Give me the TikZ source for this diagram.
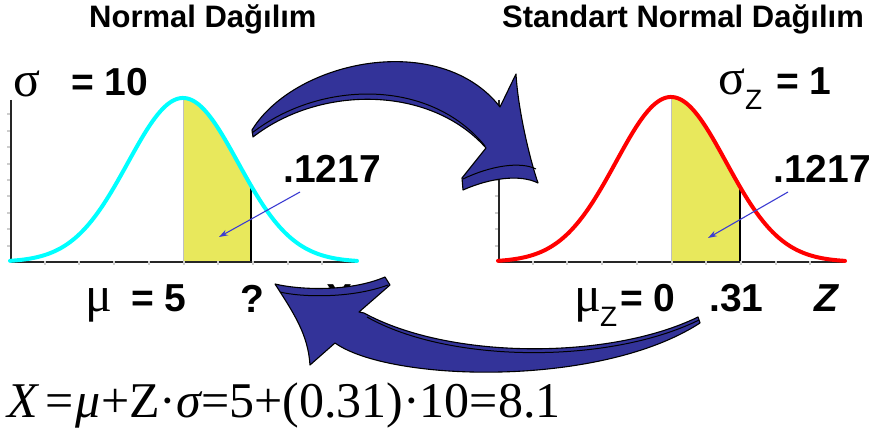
\documentclass[tikz,border=0pt]{standalone}
\usepackage{fontspec}
\setmainfont{Liberation Sans}
\newfontfamily\seriffont{Liberation Serif}
\usetikzlibrary{arrows.meta}
\definecolor{arrowblue}{RGB}{51,51,153}
\definecolor{areayellow}{RGB}{232,232,92}
\definecolor{annoblue}{RGB}{60,60,210}
\definecolor{tickgray}{RGB}{205,205,205}
\definecolor{curvecyan}{RGB}{0,255,255}
\definecolor{curvered}{RGB}{255,0,0}
\tikzset{
  titletext/.style={font=\fontsize{31}{36}\selectfont\bfseries, inner sep=0pt, anchor=base west},
  bigtext/.style={font=\fontsize{39}{44}\selectfont\bfseries, inner sep=0pt, anchor=base west},
  greektext/.style={font=\fontsize{50}{56}\seriffont, inner sep=0pt, anchor=base west},
  subtext/.style={font=\fontsize{28}{32}\selectfont, inner sep=0pt, anchor=base west},
  formulatext/.style={font=\fontsize{50}{56}\seriffont, inner sep=0pt, anchor=base west},
  axisline/.style={line width=2pt, black!85},
  tickmark/.style={line width=2pt, tickgray},
  centerline/.style={line width=0.8pt, black!25},
  cutline/.style={line width=1.2pt, black},
  bellcurve/.style={line width=4pt, line cap=round, line join=round},
  anno/.style={line width=1.1pt, annoblue, -{Stealth[length=9pt,width=6pt]}},
  bigarrow/.style={fill=arrowblue, draw=black, line width=1.1pt, line join=round},
  striplinestyle/.style={draw=black, line width=1pt},
}
\begin{document}
\begin{tikzpicture}[x=1pt,y=-1pt]
\useasboundingbox (0,0) rectangle (879,443);
\fill[white] (0,0) rectangle (879,443);

% ---------- left plot ----------
\fill[areayellow] (183,262) -- plot[domain=183:251,samples=40] (\x,{262-164*exp(-0.5*((\x-183)/55)^2)}) -- (251,262) -- cycle;
\draw[centerline] (183,98) -- (183,262);
\draw[cutline] (251,{262-164*exp(-0.5*((251-183)/55)^2)}) -- (251,262);
\draw[axisline] (11,100) -- (11,263);
\draw[axisline] (10,262) -- (357,262);
\foreach \k in {1,...,9} { \draw[tickmark] ({10+34.7*\k},261) -- ({10+34.7*\k},265); }
\foreach \k in {1,...,9} { \draw[tickmark] (7,{262-16.4*\k}) -- (9.5,{262-16.4*\k}); }
\draw[bellcurve, curvecyan] plot[domain=10:357,samples=140,smooth] (\x,{262-164*exp(-0.5*((\x-183)/55)^2)});

% ---------- right plot ----------
\fill[areayellow] (671,262) -- plot[domain=671:740,samples=40] (\x,{262-165*exp(-0.5*((\x-671)/55)^2)}) -- (740,262) -- cycle;
\draw[centerline] (671,97) -- (671,262);
\draw[cutline] (740,{262-165*exp(-0.5*((740-671)/55)^2)}) -- (740,262);
\draw[axisline] (499,100) -- (499,263);
\draw[axisline] (498,262) -- (845,262);
\foreach \k in {1,...,9} { \draw[tickmark] ({498+34.7*\k},261) -- ({498+34.7*\k},265); }
\foreach \k in {1,...,9} { \draw[tickmark] (495,{262-16.4*\k}) -- (497.5,{262-16.4*\k}); }
\draw[bellcurve, curvered] plot[domain=498:845,samples=140,smooth] (\x,{262-165*exp(-0.5*((\x-671)/55)^2)});

% ---------- titles ----------
\node[titletext] (title1) at (89,28) {Normal Dağılım};
\node[titletext] (title2) at (502,28) {Standart Normal Dağılım};

% ---------- upper labels ----------
\node[greektext] (sig1) at (13,97) {σ};
\node[bigtext] (sigval1) at (71,96) {= 10};
\node[greektext] (sig2) at (718,95) {σ};
\node[subtext] (sigsub2) at (745,110) {Z};
\node[bigtext] (sigval2) at (776,95) {= 1};
\node[bigtext] (prob1) at (283,183) {.1217};
\node[bigtext] (prob2) at (773,183) {.1217};

% ---------- lower labels ----------
\node[greektext] (mu1) at (85,312) {μ};
\node[bigtext] (muval1) at (131,312) {= 5};
\node[bigtext] (quest) at (240,313) {?};
\node[bigtext] (xlab) at (326,312) {X};
\node[greektext] (mu2) at (574,312) {μ};
\node[subtext] (musub2) at (600,327) {Z};
\node[bigtext] (muval2) at (620,312) {= 0};
\node[bigtext] (zval) at (709,312) {.31};
\node[bigtext, font=\fontsize{39}{44}\selectfont\bfseries\itshape] (zlab) at (814,312) {Z};

% ---------- annotation arrows ----------
\coordinate (a1s) at (300,192);
\coordinate (a1e) at (219,237);
\draw[anno] (a1s) -- (a1e);
\coordinate (a2s) at (788,192);
\coordinate (a2e) at (708,238);
\draw[anno] (a2s) -- (a2e);

% ---------- big curved arrows ----------
\filldraw[bigarrow] (252,130) .. controls (295,60) and (440,30) .. (500,107)
  -- (516,74) .. controls (518,110) and (530,160) .. (538,183)
  .. controls (520,174) and (490,178) .. (463,190)
  -- (462,178) -- (486,148)
  .. controls (430,85) and (320,85) .. (253,137) -- cycle;
\draw[striplinestyle] (252,133) .. controls (320,80) and (430,78) .. (485,146);
\draw[striplinestyle] (536,169) .. controls (520,161) and (490,166) .. (463,179);

\filldraw[bigarrow] (698,317) .. controls (610,360) and (450,360) .. (364,313)
  -- (359,312) -- (390,285) -- (385,277)
  .. controls (350,292) and (300,290) .. (275,284)
  .. controls (295,315) and (308,335) .. (310,365)
  -- (335,343) .. controls (390,382) and (600,388) .. (700,323) -- cycle;
\draw[striplinestyle] (388,285) .. controls (350,299) and (300,297) .. (280,292);
\draw[striplinestyle] (367,317) .. controls (450,364) and (610,364) .. (699,320);

% ---------- formula ----------
\node[formulatext] (eq) at (7,418) {{\itshape X}\hspace{8pt}=\hspace{2pt}{\itshape μ}+Z·{\itshape σ}=5+(0.31)·10=8.1};
\end{tikzpicture}
\end{document}
